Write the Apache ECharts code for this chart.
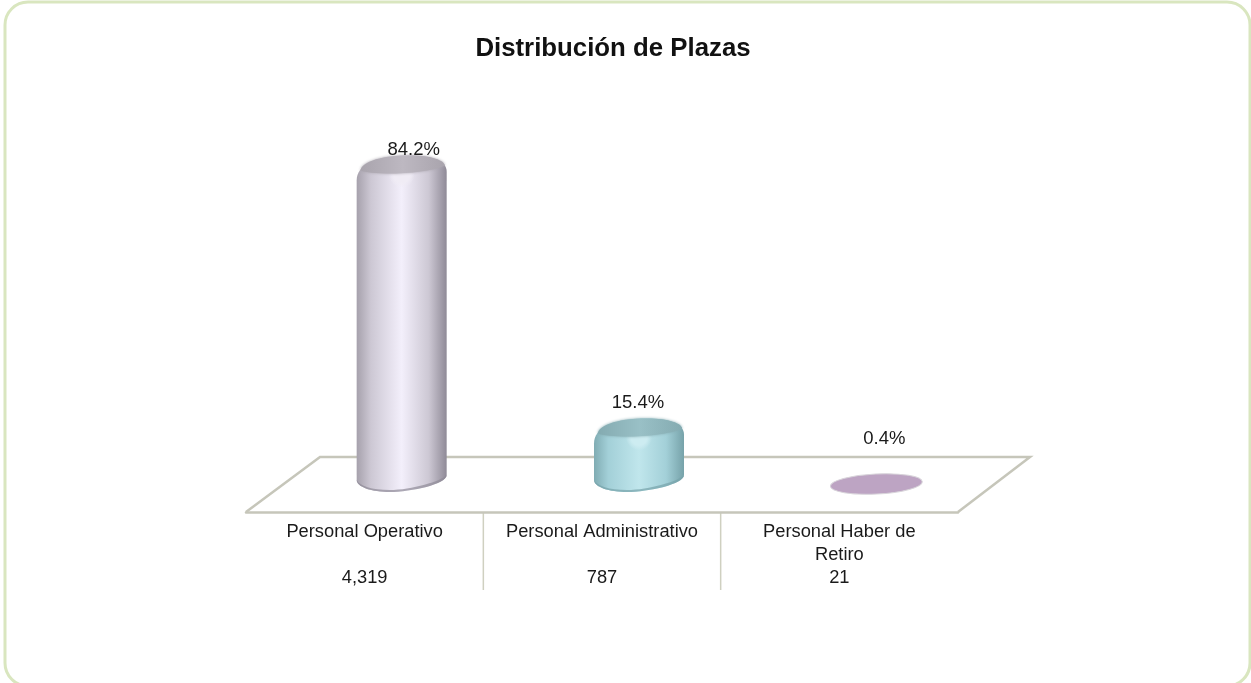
<!DOCTYPE html>
<html><head><meta charset="utf-8">
<style>html,body{margin:0;padding:0;background:#fff;overflow:hidden}#c{width:1251px;height:683px}</style>
<script src="https://cdn.jsdelivr.net/npm/echarts@6/dist/echarts.min.js"></script>
</head><body><div id="c"></div>
<script>
const categories = ['Personal Operativo', 'Personal Administrativo', 'Personal Haber de\nRetiro'];
const values = [4319, 787, 21];
const percents = ['84.2%', '15.4%', '0.4%'];

const palettes = [
  {edgeL:'#a6a1ac', edgeR:'#8f8a97', mid:'#cdc8d4', light:'#f3effb', cap:'#a9a4ad', capLight:'#bdb8c1', hi:'rgba(240,236,245,1)', hiEnd:'rgba(240,236,245,0)'},
  {edgeL:'#80acb3', edgeR:'#76a2a9', mid:'#a3d0d8', light:'#c0e6ec', cap:'#84abb1', capLight:'#99c0c6', hi:'rgba(205,236,241,1)', hiEnd:'rgba(205,236,241,0)'},
  {edgeL:'#c3afc8', edgeR:'#c3afc8', mid:'#bda4c3', light:'#c0a9c8', cap:'#bda4c3', capLight:'#c0a9c8', hi:'#c0a9c8', hiEnd:'#c0a9c8'}
];
const labelLift = [13, 23, 44];
const labelShift = [12, -1, 8];
const DX = 37, DY = -28;
const GRID_LEFT = 246, GRID_WIDTH = 712, GRID_BOTTOM = 512, DIVIDER_LEN = 78;
const FONT = '"Liberation Sans", Arial, sans-serif';

function renderBar(params, api) {
  const i = api.value(0);
  const top = api.coord([i, api.value(1)]);
  const base = api.coord([i, 0]);
  const cx = top[0] + DX, yt = top[1] + DY, y0 = base[1] + DY;
  const p = palettes[i];
  const children = [];
  const hGrad = {type:'linear',x:0,y:0,x2:1,y2:0,colorStops:[
    {offset:0,color:p.edgeL},{offset:0.16,color:p.mid},{offset:0.5,color:p.light},{offset:0.8,color:p.mid},{offset:1,color:p.edgeR}]};
  const xy = (dx, y) => (cx + dx) + ' ' + y;
  if (y0 - yt < 10) {
    children.push({type:'ellipse', shape:{cx:cx, cy:y0, rx:46, ry:10},
      rotation:0.05, originX:cx, originY:y0,
      style:{fill:p.cap, stroke:'#d8d4da', lineWidth:1}});
  } else {
    const body = 'M' + xy(-45, yt+18) +
      ' C' + xy(-45, yt+2) + ' ' + xy(-25, yt-7) + ' ' + xy(8, yt-7) +
      ' C' + xy(30, yt-7) + ' ' + xy(45, yt-2) + ' ' + xy(45, yt+9) +
      ' L' + xy(45, y0-9) +
      ' C' + xy(45, y0) + ' ' + xy(10, y0+8) + ' ' + xy(-12, y0+8) +
      ' C' + xy(-30, y0+8) + ' ' + xy(-45, y0+3) + ' ' + xy(-45, y0-4) + ' Z';
    children.push({type:'path', shape:{pathData:body}, style:{fill:hGrad}});
    const rim = 'M' + xy(-45, y0-4) +
      ' C' + xy(-45, y0+3) + ' ' + xy(-30, y0+8) + ' ' + xy(-12, y0+8) +
      ' C' + xy(10, y0+8) + ' ' + xy(45, y0) + ' ' + xy(45, y0-9) +
      ' C' + xy(40, y0-3) + ' ' + xy(10, y0+6) + ' ' + xy(-12, y0+6) +
      ' C' + xy(-30, y0+6) + ' ' + xy(-42, y0+2) + ' ' + xy(-45, y0-4) + ' Z';
    children.push({type:'path', shape:{pathData:rim}, style:{fill:p.edgeR, opacity:0.7}});
    children.push({type:'ellipse', shape:{cx:cx, cy:yt+12, rx:40, ry:13}, style:{
      fill:{type:'radial',x:0.5,y:0.5,r:0.5,colorStops:[{offset:0,color:p.hi},{offset:0.6,color:p.hi},{offset:1,color:p.hiEnd}]}}});
    const cap = 'M' + xy(-41, yt+8) +
      ' C' + xy(-41, yt+1) + ' ' + xy(-25, yt-7) + ' ' + xy(8, yt-7) +
      ' C' + xy(30, yt-7) + ' ' + xy(43, yt-2) + ' ' + xy(43, yt+3) +
      ' C' + xy(36, yt+7) + ' ' + xy(12, yt+11) + ' ' + xy(-10, yt+11) +
      ' C' + xy(-26, yt+11) + ' ' + xy(-36, yt+10) + ' ' + xy(-41, yt+8) + ' Z';
    children.push({type:'path', shape:{pathData:cap}, style:{
      fill:{type:'linear',x:0,y:0,x2:1,y2:0,colorStops:[{offset:0,color:p.cap},{offset:0.5,color:p.capLight},{offset:1,color:p.cap}]},
      shadowBlur:3, shadowColor:p.cap}});
  }
  children.push({type:'text', z2:10, style:{
    text:percents[i], x:cx + labelShift[i], y:yt - labelLift[i],
    align:'center', verticalAlign:'middle',
    font:'18.5px ' + FONT, fill:'#1a1a1a'}});
  return {type:'group', children};
}

const dividers = categories.slice(1).map((c, i) => {
  const x = GRID_LEFT + GRID_WIDTH * (i + 1) / categories.length;
  return {type:'line', z:0, silent:true, shape:{x1:x, y1:GRID_BOTTOM, x2:x, y2:GRID_BOTTOM + DIVIDER_LEN},
    style:{stroke:'#cfd0c0', lineWidth:1.5}};
});

const chart = echarts.init(document.getElementById('c'), null, {renderer:'canvas'});
chart.setOption({
  animation:false,
  backgroundColor:'#ffffff',
  title:{text:'Distribución de Plazas', left:608, top:31, textAlign:'center',
    textStyle:{fontFamily:FONT, fontSize:25.8, fontWeight:'bold', color:'#111'}},
  grid:{left:GRID_LEFT, width:GRID_WIDTH, top:177, height:GRID_BOTTOM - 177},
  xAxis:{type:'category', data:categories,
    axisLine:{show:true, lineStyle:{color:'#c6c6ba', width:2.5}},
    axisTick:{show:false},
    axisLabel:{interval:0, margin:8, color:'#1a1a1a', lineHeight:23, fontSize:18.3, fontFamily:FONT,
      formatter:(name, idx)=>{
        const v = values[idx].toLocaleString('en-US');
        return name.includes('\n') ? name + '\n' + v : name + '\n\n' + v;
      }}},
  yAxis:{type:'value', min:0, max:4500, show:false, splitLine:{show:false}},
  graphic:[
    {type:'rect', z:0, silent:true, shape:{x:5, y:2, width:1245, height:684, r:23},
      style:{fill:'#fff', stroke:'#d9e6bf', lineWidth:3}},
    {type:'polyline', z:0, silent:true, shape:{points:[[246,512],[320,457],[1030,457],[958,512]]},
      style:{fill:'none', stroke:'#c6c6ba', lineWidth:2.5}}
  ].concat(dividers),
  series:[{type:'custom', coordinateSystem:'cartesian2d',
    encode:{x:0,y:1}, renderItem:renderBar, clip:false,
    data:values.map((v,i)=>[i,v])}]
});
</script></body></html>
